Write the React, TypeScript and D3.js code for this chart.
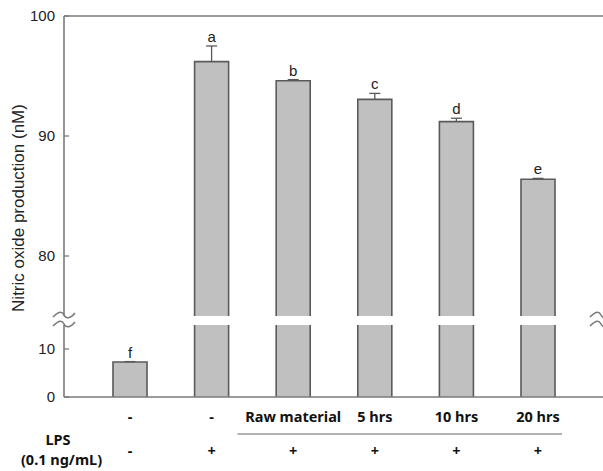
import React from 'react';
import * as d3 from 'd3';

const groups = ['ctrl', 'lps', 'raw', 'h5', 'h10', 'h20'];
const means = [7.3, 96.2, 94.6, 93.05, 91.2, 86.4];
const errors = [0.08, 1.3, 0.1, 0.5, 0.28, 0.07];
const letters = ['f', 'a', 'b', 'c', 'd', 'e'];
const sampleLabels = ['-', '-', 'Raw material', '5 hrs', '10 hrs', '20 hrs'];
const lpsLabels = ['-', '+', '+', '+', '+', '+'];
const upperTicks = [80, 90, 100];
const lowerTicks = [0, 10];

const W = 603;
const H = 471;
const left = 64;
const right = 603;

const x = d3.scaleBand<string>()
  .domain(groups)
  .range([89.2, 578.8])
  .paddingInner(0.583)
  .paddingOuter(0.2915);

const yUp = d3.scaleLinear().domain([75, 100]).range([316, 16]);
const yLo = d3.scaleLinear().domain([0, 15]).range([397, 325]);

const axisCol = '#7a7a7a';
const barStroke = '#5a5a5a';
const tickFont = 'Liberation Sans, Arial, sans-serif';
const labFont = '"Noto Sans", "Open Sans", sans-serif';

// little ~ marks where the axis is broken
const breakMark = (cx: number, cy: number) =>
  `M${cx - 11},${cy + 2} C${cx - 5},${cy - 4} ${cx - 2},${cy - 4} ${cx},${cy} S${cx + 6},${cy + 4} ${cx + 11},${cy - 2}`;

export default function App() {
  const bw = x.bandwidth();

  return (
    <svg width={W} height={H} style={{ position: 'absolute', left: 0, top: 0, background: '#fff' }}>
      {/* bars */}
      {groups.map((g, i) => {
        const x0 = x(g)!;
        const x1 = x0 + bw;
        const v = means[i];
        const parts = [];
        if (v > 15) {
          const top = yUp(v);
          const bot = yUp(75);
          parts.push(
            <g key="up">
              <rect x={x0} y={top} width={bw} height={bot - top} fill="#c0c0c0" />
              <path d={`M${x0},${bot} V${top} H${x1} V${bot}`} fill="none" stroke={barStroke} strokeWidth={1.6} />
            </g>
          );
          const lt = yLo(15);
          const lb = yLo(0);
          parts.push(
            <g key="lo">
              <rect x={x0} y={lt} width={bw} height={lb - lt} fill="#c0c0c0" />
              <path d={`M${x0},${lt} V${lb} M${x1},${lt} V${lb}`} fill="none" stroke={barStroke} strokeWidth={1.6} />
            </g>
          );
        } else {
          const top = yLo(v);
          const lb = yLo(0);
          parts.push(
            <g key="lo">
              <rect x={x0} y={top} width={bw} height={lb - top} fill="#c0c0c0" />
              <path d={`M${x0},${lb} V${top} H${x1} V${lb}`} fill="none" stroke={barStroke} strokeWidth={1.6} />
            </g>
          );
        }
        const ys = v > 15 ? yUp : yLo;
        const cx = x0 + bw / 2;
        const et = ys(v + errors[i]);
        parts.push(
          <g key="err" stroke={barStroke} strokeWidth={1.3}>
            <line x1={cx} x2={cx} y1={ys(v)} y2={et} />
            <line x1={cx - 5.5} x2={cx + 5.5} y1={et} y2={et} />
          </g>
        );
        parts.push(
          <text key="let" x={cx} y={et - 4} textAnchor="middle" fontFamily={tickFont} fontSize={15} fill="#222">
            {letters[i]}
          </text>
        );
        return <g key={g}>{parts}</g>;
      })}

      {/* frame */}
      <g stroke={axisCol} strokeWidth={1.6} fill="none">
        <line x1={left} x2={right} y1={16} y2={16} />
        <line x1={left} x2={right} y1={397} y2={397} />
        <line x1={left} x2={left} y1={16} y2={316} />
        <line x1={left} x2={left} y1={325} y2={397} />
        <path d={breakMark(left, 315)} />
        <path d={breakMark(left, 324)} />
        <path d={breakMark(right - 2, 315)} />
        <path d={breakMark(right - 2, 324)} />
      </g>

      {/* y ticks */}
      {upperTicks.map((t) => (
        <g key={'u' + t}>
          <line x1={left} x2={left + 5} y1={yUp(t)} y2={yUp(t)} stroke={axisCol} strokeWidth={1.3} />
          <text x={left - 9} y={yUp(t)} dy="0.35em" textAnchor="end" fontFamily={tickFont} fontSize={15} fill="#222">{t}</text>
        </g>
      ))}
      {lowerTicks.map((t) => (
        <g key={'l' + t}>
          <line x1={left} x2={left + 5} y1={yLo(t)} y2={yLo(t)} stroke={axisCol} strokeWidth={1.3} />
          <text x={left - 9} y={yLo(t)} dy="0.35em" textAnchor="end" fontFamily={tickFont} fontSize={15} fill="#222">{t}</text>
        </g>
      ))}

      <text
        transform="translate(24,208) rotate(-90)"
        textAnchor="middle"
        fontFamily={tickFont}
        fontSize={17}
        fill="#222"
      >
        Nitric oxide production (nM)
      </text>

      {/* treatment rows */}
      {groups.map((g, i) => (
        <text key={'s' + g} x={x(g)! + bw / 2} y={422} textAnchor="middle" fontFamily={labFont} fontWeight={700} fontSize={14.5} fill="#111">
          {sampleLabels[i]}
        </text>
      ))}
      <line x1={237.5} x2={562} y1={434} y2={434} stroke="#666" strokeWidth={1.2} />
      {groups.map((g, i) => (
        <text key={'p' + g} x={x(g)! + bw / 2} y={456} textAnchor="middle" fontFamily={labFont} fontWeight={700} fontSize={14.5} fill="#111">
          {lpsLabels[i]}
        </text>
      ))}
      <text x={58} y={445} textAnchor="middle" fontFamily={labFont} fontWeight={700} fontSize={14.5} fill="#111">LPS</text>
      <text x={61.5} y={465} textAnchor="middle" fontFamily={labFont} fontWeight={700} fontSize={14.5} fill="#111">(0.1 ng/mL)</text>
    </svg>
  );
}
